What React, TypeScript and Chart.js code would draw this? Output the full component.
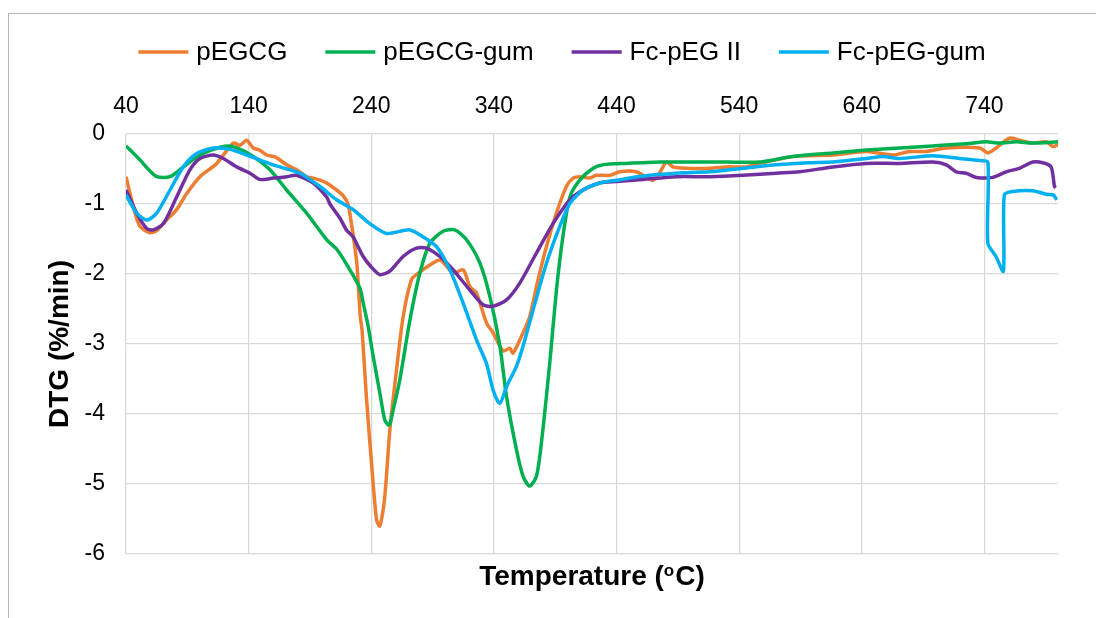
import React, { useEffect, useRef } from "react";
import { Chart, registerables } from "chart.js";

Chart.register(...registerables);

const seriesNames = ["pEGCG", "pEGCG-gum", "Fc-pEG II", "Fc-pEG-gum"];
const seriesColors = ["#ED7D31", "#00B050", "#7030A0", "#00B0F0"];

const xTicks = [40, 140, 240, 340, 440, 540, 640, 740];
const yTicks = [0, -1, -2, -3, -4, -5, -6];

const pegcgT = [40, 46, 51.4, 59.6, 65, 73, 81.3, 89.5, 100.3, 114, 127.4, 133, 138.4, 143.8, 149, 154.7, 162, 171, 180, 187.3, 192.7, 198.2, 203.6, 211.7, 217, 221, 224, 226.6, 228.5, 231, 232.5, 236, 240.2, 244.3, 247, 251, 255.2, 260.6, 266, 272.8, 278.2, 287.8, 296, 301.4, 306.8, 315, 320.4, 325.8, 334, 339.4, 347.5, 352.9, 355.6, 363.8, 369.2, 374.7, 382.8, 391, 399.1, 404.6, 410, 418, 423.6, 434.5, 442.6, 456, 469.7, 475, 480.6, 486, 497, 516, 529.5, 545.8, 556.7, 583.8, 616.4, 643.6, 665.3, 679, 692.6, 708.9, 736, 743, 749.6, 760.5, 768.6, 779.5, 790.4, 796, 800];
const pegcgV = [-0.61, -1.04, -1.32, -1.41, -1.38, -1.23, -1.08, -0.85, -0.61, -0.42, -0.13, -0.16, -0.09, -0.2, -0.23, -0.3, -0.33, -0.44, -0.52, -0.61, -0.63, -0.66, -0.7, -0.8, -0.88, -1.0, -1.3, -1.61, -1.9, -2.6, -2.8, -3.75, -4.7, -5.51, -5.6, -5.18, -4.22, -3.37, -2.61, -2.08, -1.99, -1.87, -1.8, -1.89, -1.99, -1.94, -2.18, -2.27, -2.7, -2.84, -3.1, -3.06, -3.13, -2.84, -2.61, -2.18, -1.61, -1.13, -0.75, -0.63, -0.61, -0.63, -0.59, -0.59, -0.54, -0.54, -0.66, -0.56, -0.4, -0.47, -0.49, -0.49, -0.47, -0.47, -0.42, -0.32, -0.3, -0.25, -0.3, -0.25, -0.25, -0.2, -0.2, -0.27, -0.2, -0.06, -0.09, -0.13, -0.11, -0.18, -0.15];

const gumT = [40, 51.4, 58, 65, 75.9, 86.7, 100.3, 116.6, 127.4, 143.8, 157.4, 171, 187.3, 203.6, 212, 222.6, 230.7, 233.5, 237.5, 241.6, 247, 251.1, 254.6, 257.9, 263.3, 271.5, 279.6, 287.8, 298.6, 308.1, 317.7, 328.5, 336.7, 344.9, 350.3, 358.4, 363.8, 369.2, 374.7, 378.7, 385.5, 391, 396.4, 402, 410, 420.9, 429, 448, 475.3, 502.4, 529.6, 556.7, 583.8, 616.4, 643.6, 670.8, 698, 725, 741.4, 752.3, 765.9, 779.5, 800];
const gumV = [-0.17, -0.37, -0.5, -0.61, -0.61, -0.47, -0.3, -0.19, -0.18, -0.32, -0.51, -0.8, -1.13, -1.51, -1.65, -1.94, -2.2, -2.42, -2.75, -3.18, -3.7, -4.09, -4.16, -3.94, -3.51, -2.66, -1.99, -1.56, -1.39, -1.37, -1.51, -1.84, -2.32, -3.03, -3.75, -4.51, -4.89, -5.03, -4.89, -4.42, -3.28, -2.23, -1.45, -0.9, -0.66, -0.49, -0.44, -0.42, -0.4, -0.4, -0.4, -0.4, -0.32, -0.27, -0.23, -0.2, -0.17, -0.14, -0.11, -0.13, -0.11, -0.13, -0.11];

const fcT = [40, 48.7, 56.9, 62.3, 70.5, 81.3, 92.2, 100.3, 111.2, 119.3, 130.2, 141.1, 149.2, 160, 171, 179.1, 192.7, 203.6, 206.3, 214.4, 219.8, 225.2, 233.4, 240, 247, 255.1, 266, 276.9, 285, 295.9, 306.8, 320.4, 331.2, 339.4, 350.3, 361.1, 374.7, 388.2, 401.9, 412.7, 426.3, 440, 461.6, 488.8, 516, 543.2, 570.3, 589.3, 616.4, 643.6, 670.8, 698, 708.9, 717, 725.1, 733.3, 746.8, 757.7, 768.6, 779.5, 787.6, 794.4, 797.1, 798];
const fcV = [-0.8, -1.13, -1.35, -1.37, -1.28, -0.9, -0.51, -0.35, -0.3, -0.35, -0.47, -0.56, -0.65, -0.63, -0.61, -0.59, -0.7, -0.9, -1.0, -1.2, -1.37, -1.47, -1.75, -1.9, -2.01, -1.96, -1.75, -1.63, -1.63, -1.75, -1.94, -2.23, -2.44, -2.46, -2.37, -2.13, -1.7, -1.28, -0.94, -0.8, -0.7, -0.68, -0.65, -0.61, -0.61, -0.59, -0.56, -0.54, -0.47, -0.42, -0.42, -0.4, -0.44, -0.54, -0.56, -0.62, -0.62, -0.54, -0.49, -0.4, -0.41, -0.47, -0.75, -0.77];

const fcGumT = [40, 48.7, 56.9, 65, 75.9, 86.7, 97.6, 111.2, 124.8, 138.4, 151.9, 165.5, 181.8, 198.2, 211.7, 225.2, 238.8, 252.4, 271.5, 282.3, 293.2, 304.1, 315, 325.8, 334, 339.4, 344.8, 350.3, 358.4, 363.8, 372, 382.8, 393.7, 402, 412.8, 426.4, 440, 461.6, 488.8, 516, 543.2, 570.3, 596, 616.4, 643.6, 657.2, 670.8, 698, 719.6, 736, 742.8, 742.8, 749.4, 755.5, 756.2, 763.1, 779.5, 790.4, 796, 799];
const fcGumV = [-0.87, -1.13, -1.23, -1.13, -0.8, -0.47, -0.28, -0.2, -0.22, -0.3, -0.39, -0.47, -0.56, -0.75, -0.94, -1.08, -1.28, -1.42, -1.37, -1.47, -1.61, -1.94, -2.42, -2.94, -3.28, -3.66, -3.85, -3.61, -3.32, -3.03, -2.51, -1.85, -1.32, -0.99, -0.8, -0.7, -0.66, -0.6, -0.56, -0.54, -0.49, -0.44, -0.41, -0.4, -0.35, -0.32, -0.35, -0.31, -0.35, -0.38, -0.4, -1.56, -1.75, -1.96, -0.87, -0.82, -0.81, -0.86, -0.87, -0.94];

const allT = [pegcgT, gumT, fcT, fcGumT];
const allV = [pegcgV, gumV, fcV, fcGumV];

const FONT = '"Liberation Sans", Arial, sans-serif';

const decorPlugin = {
  id: "decor",
  beforeDraw(chart: any) {
    const ctx = chart.ctx;
    ctx.save();
    ctx.fillStyle = "#ffffff";
    ctx.fillRect(0, 0, chart.width, chart.height);
    ctx.strokeStyle = "#b4b4b4";
    ctx.lineWidth = 1;
    ctx.strokeRect(8.5, 13.5, 1200, 800);
    ctx.restore();
  },
  afterDraw(chart: any) {
    const ctx = chart.ctx;
    const area = chart.chartArea;
    ctx.save();
    // legend
    ctx.font = `26px ${FONT}`;
    ctx.textBaseline = "middle";
    ctx.textAlign = "left";
    const lineW = 50, gap = 8, itemGap = 38;
    const widths = seriesNames.map((n) => ctx.measureText(n).width);
    const total = widths.reduce((a, b) => a + b, 0) + seriesNames.length * (lineW + gap) + (seriesNames.length - 1) * itemGap;
    let x = 562 - total / 2;
    const ly = 52;
    seriesNames.forEach((n, i) => {
      ctx.strokeStyle = seriesColors[i];
      ctx.lineWidth = 3.5;
      ctx.beginPath();
      ctx.moveTo(x, ly);
      ctx.lineTo(x + lineW, ly);
      ctx.stroke();
      ctx.fillStyle = "#000";
      ctx.fillText(n, x + lineW + gap, ly + 1);
      x += lineW + gap + widths[i] + itemGap;
    });
    // x title
    const cx = (area.left + area.right) / 2;
    const by = 585;
    const bigFont = `bold 28px ${FONT}`;
    const smallFont = `bold 17px ${FONT}`;
    ctx.textBaseline = "alphabetic";
    ctx.font = bigFont;
    const p1 = "Temperature (";
    const p3 = "C)";
    const w1 = ctx.measureText(p1).width;
    const w3 = ctx.measureText(p3).width;
    ctx.font = smallFont;
    const w2 = ctx.measureText("o").width + 1;
    let sx = cx - (w1 + w2 + w3) / 2;
    ctx.font = bigFont;
    ctx.fillText(p1, sx, by);
    sx += w1;
    ctx.font = smallFont;
    ctx.fillText("o", sx, by - 9);
    sx += w2;
    ctx.font = bigFont;
    ctx.fillText(p3, sx, by);
    // y title
    ctx.translate(60, (area.top + area.bottom) / 2);
    ctx.rotate(-Math.PI / 2);
    ctx.textAlign = "center";
    ctx.textBaseline = "middle";
    ctx.font = bigFont;
    ctx.fillText("DTG (%/min)", 0, 0);
    ctx.restore();
  },
};

export default function App() {
  const ref = useRef<HTMLCanvasElement | null>(null);
  useEffect(() => {
    document.body.style.margin = "0";
    const canvas = ref.current;
    if (!canvas) return;
    const datasets = seriesNames.map((name, i) => ({
      label: name,
      data: allT[i].map((t, k) => ({ x: t, y: allV[i][k] })),
      borderColor: seriesColors[i],
      backgroundColor: seriesColors[i],
      borderWidth: 3.5,
      pointRadius: 0,
      tension: 0.25,
      fill: false,
      order: seriesNames.length - i,
    }));
    const chart = new Chart(canvas, {
      type: "line",
      data: { datasets },
      plugins: [decorPlugin],
      options: {
        animation: false,
        responsive: false,
        maintainAspectRatio: false,
        layout: { padding: { left: 66, top: 94, right: 38, bottom: 64 } },
        plugins: { legend: { display: false }, tooltip: { enabled: false } },
        scales: {
          x: {
            type: "linear",
            position: "top",
            min: 40,
            max: 800,
            afterBuildTicks: (scale: any) => {
              scale.ticks = xTicks.map((v) => ({ value: v }));
            },
            afterFit: (scale: any) => {
              scale.height = 40;
            },
            ticks: {
              autoSkip: false,
              maxRotation: 0,
              padding: 14,
              color: "#000",
              font: { family: FONT, size: 23 },
            },
            grid: { color: "#d9d9d9", lineWidth: 1.3, drawTicks: false },
            border: { display: false },
          },
          y: {
            type: "linear",
            min: -6,
            max: 0,
            afterBuildTicks: (scale: any) => {
              scale.ticks = yTicks.map((v) => ({ value: v }));
            },
            afterFit: (scale: any) => {
              scale.width = 60;
            },
            ticks: {
              padding: 21,
              color: "#000",
              font: { family: FONT, size: 23 },
            },
            grid: { color: "#d9d9d9", lineWidth: 1.3, drawTicks: false },
            border: { display: false },
          },
        },
      },
    });
    return () => chart.destroy();
  }, []);
  return (
    <div style={{ position: "relative", width: 1096, height: 618 }}>
      <canvas ref={ref} width={1096} height={618} />
    </div>
  );
}
